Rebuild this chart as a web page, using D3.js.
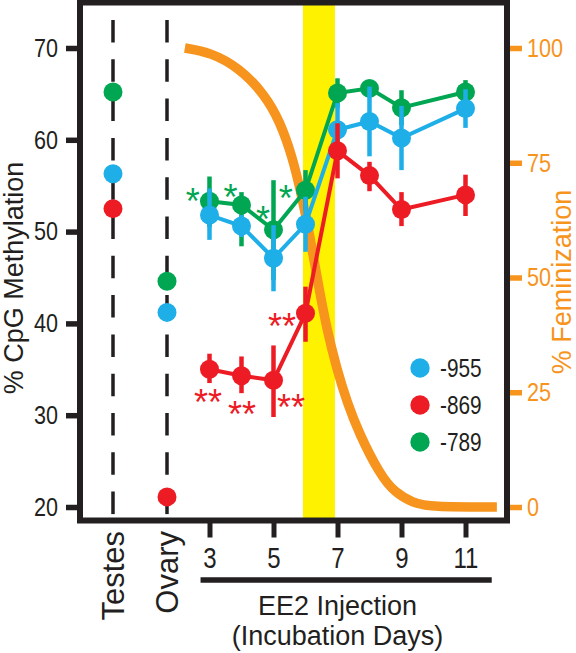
<!DOCTYPE html>
<html><head><meta charset="utf-8">
<script src="https://cdn.jsdelivr.net/npm/d3@7"></script>
<style>body{margin:0;background:#fff}svg{display:block}</style>
</head><body>
<svg id="chart" width="576" height="653"></svg>
<script>
// ---------- data ----------
const days = [3, 4, 5, 6, 7, 8, 9, 11];
const tissues = ["Testes", "Ovary"];
const seriesNames = ["-955", "-869", "-789"];

const tissue955 = [56.3, 41.2];
const tissue869 = [52.5, 21.1];
const tissue789 = [65.2, 44.6];

const meth955 = [51.8, 50.6, 47.1, 50.8, 61.1, 62.0, 60.2, 63.4];
const hi955   = [54.7, 51.8, 50.7, 53.8, 64.0, 65.8, 63.7, 65.5];
const lo955   = [49.1, 49.4, 43.5, 47.8, 58.2, 58.2, 56.7, 61.3];

const meth869 = [35.0, 34.3, 33.8, 41.1, 58.8, 56.1, 52.4, 54.0];
const hi869   = [36.7, 36.4, 37.6, 44.0, 61.8, 57.6, 54.3, 56.2];
const lo869   = [33.5, 32.4, 29.8, 38.0, 55.8, 54.4, 50.6, 51.7];

const meth789 = [53.3, 52.9, 50.2, 54.5, 65.1, 65.6, 63.5, 65.2];
const hi789   = [56.0, 54.3, 55.6, 56.7, 66.7, 66.5, 65.4, 66.5];
const lo789   = [50.5, 48.4, 44.7, 52.3, 63.5, 64.7, 61.6, 63.9];

// significance marks (day, % methylation at mark centre)
const starsGreenDay = [2.48, 3.66, 4.67, 5.38];
const starsGreenVal = [54.2, 54.6, 52.2, 54.5];
const starsRedDay = [2.95, 4.02, 5.55, 5.27];
const starsRedVal = [32.3, 31.0, 31.7, 40.6];

// feminization curve (day, %)
const femDays = [2.23, 3.02, 3.95, 4.73, 5.20, 5.58, 5.86, 6.14, 6.39, 6.67, 6.98, 7.30, 7.67, 8.33, 8.80, 9.36, 9.89, 11.98];
const femVals = [100, 99.1, 95.6, 89.8, 84.0, 76.5, 68.5, 59.0, 48.8, 38.6, 30.0, 22.8, 16.1, 7.0, 3.1, 0.9, 0, 0];

const leftTicks = [20, 30, 40, 50, 60, 70];
const rightTicks = [0, 25, 50, 75, 100];
const dayTicks = [3, 5, 7, 9, 11];
const ee2Window = [5.92, 6.92];
const ee2Span = [2.72, 11.82];

// ---------- styles ----------
const INK = "#231f20";
const ORANGE = "#f7941d";
const YELLOW = "#fff200";
const colors = {"-955": "#1eaee8", "-869": "#ed1c24", "-789": "#00a651"};
const SANS = "'Liberation Sans',Arial,Helvetica,sans-serif";

// condense text horizontally (narrow typeface look)
function condense(sel, f) {
  sel.each(function () {
    const w = this.getComputedTextLength();
    d3.select(this).attr("textLength", w * f).attr("lengthAdjust", "spacingAndGlyphs");
  });
}

// ---------- scales ----------
const plot = {left: 80, right: 507, top: 2.5, bottom: 520.5};
const x = d3.scaleLinear().domain([3, 11]).range([209.5, 465.5]);
const xT = d3.scalePoint().domain(tissues).range([113, 167]);
const yL = d3.scaleLinear().domain([20, 70]).range([507, 48]);
const yR = d3.scaleLinear().domain([0, 100]).range([507, 48]);

const svg = d3.select("#chart");

// EE2 window
svg.append("rect")
  .attr("x", x(ee2Window[0])).attr("width", x(ee2Window[1]) - x(ee2Window[0]))
  .attr("y", plot.top).attr("height", plot.bottom - plot.top)
  .attr("fill", YELLOW);

// dashed tissue lines
svg.selectAll(".tline").data(tissues).join("line")
  .attr("x1", d => xT(d)).attr("x2", d => xT(d))
  .attr("y1", 20).attr("y2", plot.bottom)
  .attr("stroke", INK).attr("stroke-width", 3.5)
  .attr("stroke-dasharray", "22.5,16.8");

// feminization curve
const femData = femDays.map((d, i) => ({d, v: femVals[i]}));
svg.append("path").datum(femData)
  .attr("d", d3.line().x(p => x(p.d)).y(p => yR(p.v)).curve(d3.curveBasis))
  .attr("fill", "none").attr("stroke", ORANGE).attr("stroke-width", 9.5);

// series
const seriesData = [
  {name: "-789", tissue: tissue789, m: meth789, hi: hi789, lo: lo789},
  {name: "-955", tissue: tissue955, m: meth955, hi: hi955, lo: lo955},
  {name: "-869", tissue: tissue869, m: meth869, hi: hi869, lo: lo869}
];
const R = 9.5;
seriesData.forEach(s => {
  const c = colors[s.name];
  const g = svg.append("g");
  const pts = days.map((d, i) => ({d, m: s.m[i], hi: s.hi[i], lo: s.lo[i]}));
  g.selectAll(".err").data(pts).join("line")
    .attr("x1", p => x(p.d)).attr("x2", p => x(p.d))
    .attr("y1", p => yL(p.hi)).attr("y2", p => yL(p.lo))
    .attr("stroke", c).attr("stroke-width", 4.5);
  g.append("path").datum(pts)
    .attr("d", d3.line().x(p => x(p.d)).y(p => yL(p.m)))
    .attr("fill", "none").attr("stroke", c).attr("stroke-width", 4);
  g.selectAll(".dot").data(pts).join("circle")
    .attr("cx", p => x(p.d)).attr("cy", p => yL(p.m)).attr("r", R).attr("fill", c);
  g.selectAll(".tdot").data(tissues).join("circle")
    .attr("cx", t => xT(t)).attr("cy", (t, i) => yL(s.tissue[i])).attr("r", R).attr("fill", c);
});

// stars
function stars(ds, vs, label, color) {
  const fs = 36;
  svg.append("g").selectAll("text").data(ds).join("text")
    .attr("x", d => x(d)).attr("y", (d, i) => yL(vs[i]) + fs * 0.58)
    .attr("text-anchor", "middle")
    .attr("font-family", SANS).attr("font-size", fs)
    .attr("fill", color).text(label);
}
stars(starsGreenDay, starsGreenVal, "*", colors["-789"]);
stars(starsRedDay, starsRedVal, "**", colors["-869"]);

// frame
svg.append("rect")
  .attr("x", plot.left).attr("y", plot.top)
  .attr("width", plot.right - plot.left).attr("height", plot.bottom - plot.top)
  .attr("fill", "none").attr("stroke", INK).attr("stroke-width", 6);

// left axis
const gL = svg.append("g").attr("transform", `translate(${plot.left},0)`)
  .call(d3.axisLeft(yL).tickValues(leftTicks).tickSize(14).tickPadding(8));
gL.select(".domain").remove();
gL.selectAll(".tick line").attr("stroke", INK).attr("stroke-width", 5.5);
gL.selectAll(".tick text").attr("fill", INK).attr("font-family", SANS).attr("font-size", 26).call(condense, 0.83);

// right axis
const gR = svg.append("g").attr("transform", `translate(510,0)`)
  .call(d3.axisRight(yR).tickValues(rightTicks).tickSize(12).tickPadding(5));
gR.select(".domain").remove();
gR.selectAll(".tick line").attr("stroke", ORANGE).attr("stroke-width", 5.5);
gR.selectAll(".tick text").attr("fill", ORANGE).attr("font-family", SANS).attr("font-size", 26).call(condense, 0.83);

// bottom axis
const gB = svg.append("g").attr("transform", `translate(0,${plot.bottom})`)
  .call(d3.axisBottom(x).tickValues(dayTicks).tickSize(17).tickPadding(9));
gB.select(".domain").remove();
gB.selectAll(".tick line").attr("stroke", INK).attr("stroke-width", 5);
gB.selectAll(".tick text").attr("fill", INK).attr("font-family", SANS).attr("font-size", 30).call(condense, 0.8);

// tissue labels
svg.selectAll(".tlabel").data(tissues).join("text")
  .attr("transform", t => `translate(${xT(t) + 11},531) rotate(-90)`)
  .attr("text-anchor", "end")
  .attr("font-family", SANS).attr("font-size", 31).attr("fill", INK)
  .text(t => t);

// EE2 bar and labels
svg.append("line")
  .attr("x1", x(ee2Span[0])).attr("x2", x(ee2Span[1]))
  .attr("y1", 580).attr("y2", 580)
  .attr("stroke", INK).attr("stroke-width", 5.5);
svg.append("text").attr("x", x(7)).attr("y", 615)
  .attr("text-anchor", "middle").attr("font-family", SANS).attr("font-size", 27).attr("fill", INK)
  .text("EE2 Injection");
svg.append("text").attr("x", x(7)).attr("y", 645)
  .attr("text-anchor", "middle").attr("font-family", SANS).attr("font-size", 27).attr("fill", INK)
  .text("(Incubation Days)");

// axis titles
svg.append("text").attr("transform", "translate(23,278) rotate(-90)")
  .attr("text-anchor", "middle").attr("font-family", SANS).attr("font-size", 27).attr("fill", INK)
  .text("% CpG Methylation");
svg.append("text").attr("transform", "translate(571,282) rotate(-90)")
  .attr("text-anchor", "middle").attr("font-family", SANS).attr("font-size", 27).attr("fill", ORANGE)
  .text("% Feminization");

// legend
const ly = d3.scalePoint().domain(seriesNames).range([368, 442]);
const lg = svg.append("g");
lg.selectAll("circle").data(seriesNames).join("circle")
  .attr("cx", 420).attr("cy", d => ly(d)).attr("r", 9.7).attr("fill", d => colors[d]);
lg.selectAll("text").data(seriesNames).join("text")
  .attr("x", 440).attr("y", d => ly(d)).attr("dy", "0.36em")
  .attr("font-family", SANS).attr("font-size", 26).attr("fill", INK)
  .text(d => d).call(condense, 0.8);
</script>
</body></html>
